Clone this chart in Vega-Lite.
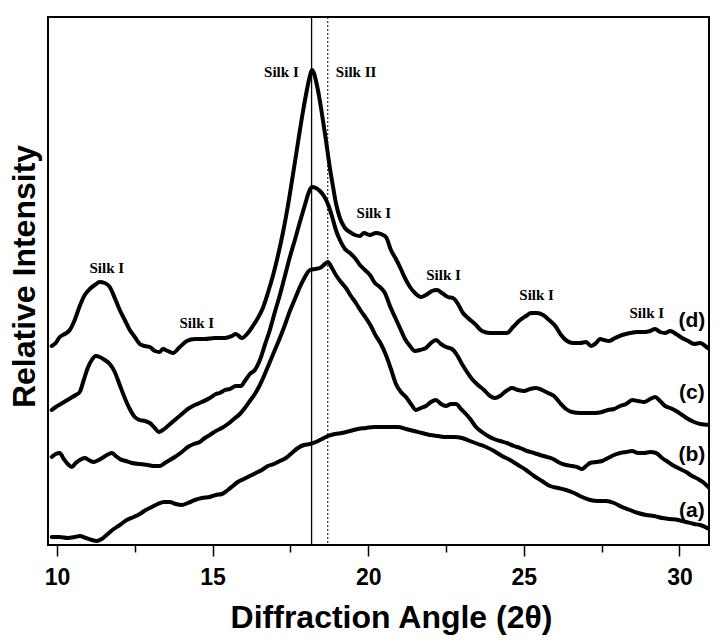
{
  "$schema": "https://vega.github.io/schema/vega-lite/v6.json",
  "width": 661,
  "height": 528,
  "autosize": {"type": "none"},
  "padding": {"left": 48, "top": 17, "right": 15, "bottom": 97},
  "background": "white",
  "config": {
    "view": {"stroke": "black", "strokeWidth": 2},
    "font": "Liberation Sans"
  },
  "datasets": {
    "curves": [
      {"s":"d","x":9.830,"y":199},{"s":"d","x":9.958,"y":202},{"s":"d","x":10.087,"y":208},{"s":"d","x":10.248,"y":211},{"s":"d","x":10.409,"y":215},{"s":"d","x":10.569,"y":225},{"s":"d","x":10.730,"y":239},{"s":"d","x":10.891,"y":250},{"s":"d","x":11.052,"y":256},{"s":"d","x":11.212,"y":260},{"s":"d","x":11.373,"y":263},{"s":"d","x":11.534,"y":262},{"s":"d","x":11.695,"y":258},{"s":"d","x":11.855,"y":247},{"s":"d","x":12.016,"y":235},{"s":"d","x":12.177,"y":225},{"s":"d","x":12.338,"y":215},{"s":"d","x":12.498,"y":208},{"s":"d","x":12.659,"y":201},{"s":"d","x":12.820,"y":199},{"s":"d","x":12.981,"y":198},{"s":"d","x":13.142,"y":194},{"s":"d","x":13.302,"y":193},{"s":"d","x":13.399,"y":196},{"s":"d","x":13.560,"y":194},{"s":"d","x":13.720,"y":192},{"s":"d","x":13.945,"y":198},{"s":"d","x":14.170,"y":204},{"s":"d","x":14.428,"y":206},{"s":"d","x":14.749,"y":206},{"s":"d","x":15.071,"y":207},{"s":"d","x":15.392,"y":207},{"s":"d","x":15.617,"y":209},{"s":"d","x":15.746,"y":211},{"s":"d","x":15.939,"y":207},{"s":"d","x":16.132,"y":212},{"s":"d","x":16.293,"y":219},{"s":"d","x":16.453,"y":227},{"s":"d","x":16.614,"y":237},{"s":"d","x":16.775,"y":252},{"s":"d","x":16.936,"y":269},{"s":"d","x":17.096,"y":289},{"s":"d","x":17.257,"y":312},{"s":"d","x":17.418,"y":339},{"s":"d","x":17.579,"y":370},{"s":"d","x":17.740,"y":402},{"s":"d","x":17.900,"y":433},{"s":"d","x":18.029,"y":455},{"s":"d","x":18.125,"y":469},{"s":"d","x":18.190,"y":475},{"s":"d","x":18.254,"y":472},{"s":"d","x":18.350,"y":460},{"s":"d","x":18.447,"y":444},{"s":"d","x":18.543,"y":425},{"s":"d","x":18.640,"y":405},{"s":"d","x":18.768,"y":377},{"s":"d","x":18.865,"y":359},{"s":"d","x":18.961,"y":342},{"s":"d","x":19.090,"y":327},{"s":"d","x":19.251,"y":317},{"s":"d","x":19.412,"y":313},{"s":"d","x":19.572,"y":310},{"s":"d","x":19.733,"y":309},{"s":"d","x":19.862,"y":312},{"s":"d","x":20.055,"y":310},{"s":"d","x":20.248,"y":312},{"s":"d","x":20.408,"y":311},{"s":"d","x":20.569,"y":308},{"s":"d","x":20.730,"y":295},{"s":"d","x":20.891,"y":286},{"s":"d","x":21.019,"y":278},{"s":"d","x":21.180,"y":267},{"s":"d","x":21.341,"y":258},{"s":"d","x":21.502,"y":252},{"s":"d","x":21.694,"y":248},{"s":"d","x":21.855,"y":250},{"s":"d","x":22.048,"y":254},{"s":"d","x":22.209,"y":255},{"s":"d","x":22.370,"y":252},{"s":"d","x":22.563,"y":248},{"s":"d","x":22.723,"y":247},{"s":"d","x":22.884,"y":241},{"s":"d","x":23.045,"y":232},{"s":"d","x":23.206,"y":227},{"s":"d","x":23.431,"y":221},{"s":"d","x":23.656,"y":214},{"s":"d","x":23.913,"y":212},{"s":"d","x":24.235,"y":212},{"s":"d","x":24.460,"y":212},{"s":"d","x":24.653,"y":218},{"s":"d","x":24.878,"y":225},{"s":"d","x":25.071,"y":229},{"s":"d","x":25.231,"y":232},{"s":"d","x":25.424,"y":232},{"s":"d","x":25.617,"y":230},{"s":"d","x":25.810,"y":225},{"s":"d","x":26.035,"y":218},{"s":"d","x":26.196,"y":210},{"s":"d","x":26.389,"y":204},{"s":"d","x":26.582,"y":202},{"s":"d","x":26.807,"y":202},{"s":"d","x":27.000,"y":203},{"s":"d","x":27.161,"y":199},{"s":"d","x":27.321,"y":202},{"s":"d","x":27.450,"y":206},{"s":"d","x":27.579,"y":205},{"s":"d","x":27.739,"y":204},{"s":"d","x":27.932,"y":207},{"s":"d","x":28.157,"y":210},{"s":"d","x":28.415,"y":212},{"s":"d","x":28.672,"y":213},{"s":"d","x":28.897,"y":213},{"s":"d","x":29.058,"y":214},{"s":"d","x":29.218,"y":216},{"s":"d","x":29.379,"y":213},{"s":"d","x":29.540,"y":212},{"s":"d","x":29.701,"y":214},{"s":"d","x":29.894,"y":211},{"s":"d","x":30.087,"y":207},{"s":"d","x":30.280,"y":204},{"s":"d","x":30.473,"y":201},{"s":"d","x":30.665,"y":202},{"s":"d","x":30.826,"y":199},{"s":"d","x":30.955,"y":196},
      {"s":"c","x":9.830,"y":135},{"s":"c","x":9.958,"y":138},{"s":"c","x":10.119,"y":141},{"s":"c","x":10.280,"y":144},{"s":"c","x":10.441,"y":147},{"s":"c","x":10.601,"y":150},{"s":"c","x":10.730,"y":153},{"s":"c","x":10.859,"y":165},{"s":"c","x":10.987,"y":177},{"s":"c","x":11.116,"y":185},{"s":"c","x":11.244,"y":189},{"s":"c","x":11.373,"y":188},{"s":"c","x":11.534,"y":185},{"s":"c","x":11.695,"y":181},{"s":"c","x":11.855,"y":173},{"s":"c","x":12.016,"y":160},{"s":"c","x":12.177,"y":147},{"s":"c","x":12.338,"y":136},{"s":"c","x":12.498,"y":128},{"s":"c","x":12.659,"y":125},{"s":"c","x":12.820,"y":124},{"s":"c","x":12.981,"y":122},{"s":"c","x":13.142,"y":117},{"s":"c","x":13.270,"y":113},{"s":"c","x":13.399,"y":115},{"s":"c","x":13.560,"y":119},{"s":"c","x":13.785,"y":125},{"s":"c","x":14.010,"y":131},{"s":"c","x":14.203,"y":136},{"s":"c","x":14.428,"y":140},{"s":"c","x":14.653,"y":143},{"s":"c","x":14.910,"y":147},{"s":"c","x":15.103,"y":151},{"s":"c","x":15.231,"y":152},{"s":"c","x":15.392,"y":155},{"s":"c","x":15.553,"y":156},{"s":"c","x":15.746,"y":159},{"s":"c","x":15.907,"y":159},{"s":"c","x":16.035,"y":164},{"s":"c","x":16.196,"y":171},{"s":"c","x":16.357,"y":175},{"s":"c","x":16.518,"y":185},{"s":"c","x":16.678,"y":200},{"s":"c","x":16.839,"y":215},{"s":"c","x":17.000,"y":233},{"s":"c","x":17.161,"y":250},{"s":"c","x":17.322,"y":269},{"s":"c","x":17.482,"y":288},{"s":"c","x":17.643,"y":305},{"s":"c","x":17.804,"y":323},{"s":"c","x":17.965,"y":340},{"s":"c","x":18.093,"y":353},{"s":"c","x":18.190,"y":358},{"s":"c","x":18.318,"y":357},{"s":"c","x":18.447,"y":354},{"s":"c","x":18.576,"y":349},{"s":"c","x":18.704,"y":341},{"s":"c","x":18.833,"y":329},{"s":"c","x":18.961,"y":315},{"s":"c","x":19.090,"y":305},{"s":"c","x":19.251,"y":296},{"s":"c","x":19.412,"y":292},{"s":"c","x":19.572,"y":287},{"s":"c","x":19.733,"y":280},{"s":"c","x":19.894,"y":275},{"s":"c","x":20.055,"y":270},{"s":"c","x":20.215,"y":262},{"s":"c","x":20.376,"y":258},{"s":"c","x":20.537,"y":252},{"s":"c","x":20.698,"y":239},{"s":"c","x":20.858,"y":228},{"s":"c","x":21.019,"y":217},{"s":"c","x":21.180,"y":206},{"s":"c","x":21.341,"y":199},{"s":"c","x":21.502,"y":194},{"s":"c","x":21.662,"y":195},{"s":"c","x":21.855,"y":197},{"s":"c","x":22.016,"y":202},{"s":"c","x":22.177,"y":205},{"s":"c","x":22.338,"y":201},{"s":"c","x":22.498,"y":198},{"s":"c","x":22.691,"y":196},{"s":"c","x":22.852,"y":190},{"s":"c","x":23.013,"y":181},{"s":"c","x":23.174,"y":173},{"s":"c","x":23.334,"y":166},{"s":"c","x":23.527,"y":160},{"s":"c","x":23.720,"y":155},{"s":"c","x":23.913,"y":149},{"s":"c","x":24.074,"y":147},{"s":"c","x":24.235,"y":149},{"s":"c","x":24.428,"y":154},{"s":"c","x":24.620,"y":157},{"s":"c","x":24.813,"y":155},{"s":"c","x":25.006,"y":154},{"s":"c","x":25.199,"y":156},{"s":"c","x":25.392,"y":157},{"s":"c","x":25.585,"y":155},{"s":"c","x":25.778,"y":152},{"s":"c","x":25.971,"y":149},{"s":"c","x":26.164,"y":142},{"s":"c","x":26.357,"y":136},{"s":"c","x":26.550,"y":133},{"s":"c","x":26.807,"y":132},{"s":"c","x":27.064,"y":132},{"s":"c","x":27.289,"y":132},{"s":"c","x":27.514,"y":133},{"s":"c","x":27.707,"y":135},{"s":"c","x":27.900,"y":136},{"s":"c","x":28.093,"y":139},{"s":"c","x":28.286,"y":141},{"s":"c","x":28.479,"y":145},{"s":"c","x":28.672,"y":144},{"s":"c","x":28.865,"y":143},{"s":"c","x":29.058,"y":146},{"s":"c","x":29.218,"y":148},{"s":"c","x":29.379,"y":144},{"s":"c","x":29.540,"y":139},{"s":"c","x":29.701,"y":137},{"s":"c","x":29.894,"y":134},{"s":"c","x":30.087,"y":130},{"s":"c","x":30.280,"y":126},{"s":"c","x":30.473,"y":123},{"s":"c","x":30.665,"y":121},{"s":"c","x":30.955,"y":120},
      {"s":"b","x":9.830,"y":88},{"s":"b","x":9.958,"y":91},{"s":"b","x":10.087,"y":92},{"s":"b","x":10.216,"y":86},{"s":"b","x":10.344,"y":81},{"s":"b","x":10.473,"y":78},{"s":"b","x":10.601,"y":82},{"s":"b","x":10.730,"y":85},{"s":"b","x":10.891,"y":87},{"s":"b","x":11.019,"y":85},{"s":"b","x":11.180,"y":83},{"s":"b","x":11.341,"y":85},{"s":"b","x":11.502,"y":88},{"s":"b","x":11.662,"y":91},{"s":"b","x":11.759,"y":92},{"s":"b","x":11.888,"y":89},{"s":"b","x":12.016,"y":86},{"s":"b","x":12.209,"y":84},{"s":"b","x":12.402,"y":82},{"s":"b","x":12.659,"y":81},{"s":"b","x":12.916,"y":80},{"s":"b","x":13.142,"y":79},{"s":"b","x":13.302,"y":79},{"s":"b","x":13.463,"y":82},{"s":"b","x":13.624,"y":85},{"s":"b","x":13.785,"y":88},{"s":"b","x":14.010,"y":93},{"s":"b","x":14.203,"y":98},{"s":"b","x":14.396,"y":101},{"s":"b","x":14.588,"y":103},{"s":"b","x":14.749,"y":107},{"s":"b","x":14.910,"y":110},{"s":"b","x":15.103,"y":114},{"s":"b","x":15.296,"y":117},{"s":"b","x":15.489,"y":121},{"s":"b","x":15.682,"y":126},{"s":"b","x":15.875,"y":131},{"s":"b","x":16.035,"y":137},{"s":"b","x":16.196,"y":144},{"s":"b","x":16.357,"y":151},{"s":"b","x":16.518,"y":160},{"s":"b","x":16.678,"y":171},{"s":"b","x":16.839,"y":183},{"s":"b","x":17.000,"y":195},{"s":"b","x":17.161,"y":207},{"s":"b","x":17.322,"y":220},{"s":"b","x":17.482,"y":234},{"s":"b","x":17.643,"y":246},{"s":"b","x":17.804,"y":258},{"s":"b","x":17.965,"y":268},{"s":"b","x":18.125,"y":275},{"s":"b","x":18.286,"y":276},{"s":"b","x":18.447,"y":277},{"s":"b","x":18.608,"y":281},{"s":"b","x":18.704,"y":283},{"s":"b","x":18.833,"y":277},{"s":"b","x":18.961,"y":270},{"s":"b","x":19.122,"y":263},{"s":"b","x":19.283,"y":257},{"s":"b","x":19.444,"y":249},{"s":"b","x":19.604,"y":242},{"s":"b","x":19.765,"y":234},{"s":"b","x":19.926,"y":227},{"s":"b","x":20.087,"y":219},{"s":"b","x":20.248,"y":209},{"s":"b","x":20.408,"y":201},{"s":"b","x":20.569,"y":190},{"s":"b","x":20.730,"y":176},{"s":"b","x":20.891,"y":161},{"s":"b","x":21.051,"y":153},{"s":"b","x":21.212,"y":148},{"s":"b","x":21.373,"y":141},{"s":"b","x":21.534,"y":135},{"s":"b","x":21.694,"y":137},{"s":"b","x":21.855,"y":139},{"s":"b","x":22.016,"y":143},{"s":"b","x":22.177,"y":145},{"s":"b","x":22.338,"y":141},{"s":"b","x":22.498,"y":139},{"s":"b","x":22.659,"y":141},{"s":"b","x":22.820,"y":141},{"s":"b","x":22.981,"y":136},{"s":"b","x":23.141,"y":131},{"s":"b","x":23.302,"y":125},{"s":"b","x":23.463,"y":118},{"s":"b","x":23.656,"y":113},{"s":"b","x":23.849,"y":109},{"s":"b","x":24.042,"y":106},{"s":"b","x":24.235,"y":104},{"s":"b","x":24.460,"y":102},{"s":"b","x":24.685,"y":99},{"s":"b","x":24.878,"y":97},{"s":"b","x":25.103,"y":94},{"s":"b","x":25.328,"y":92},{"s":"b","x":25.521,"y":90},{"s":"b","x":25.746,"y":88},{"s":"b","x":25.939,"y":86},{"s":"b","x":26.164,"y":82},{"s":"b","x":26.357,"y":80},{"s":"b","x":26.550,"y":79},{"s":"b","x":26.710,"y":78},{"s":"b","x":26.871,"y":76},{"s":"b","x":27.000,"y":79},{"s":"b","x":27.128,"y":82},{"s":"b","x":27.321,"y":83},{"s":"b","x":27.514,"y":84},{"s":"b","x":27.707,"y":87},{"s":"b","x":27.900,"y":90},{"s":"b","x":28.093,"y":92},{"s":"b","x":28.286,"y":93},{"s":"b","x":28.479,"y":94},{"s":"b","x":28.672,"y":92},{"s":"b","x":28.865,"y":92},{"s":"b","x":29.058,"y":93},{"s":"b","x":29.251,"y":92},{"s":"b","x":29.444,"y":87},{"s":"b","x":29.636,"y":83},{"s":"b","x":29.830,"y":79},{"s":"b","x":30.022,"y":76},{"s":"b","x":30.215,"y":73},{"s":"b","x":30.408,"y":69},{"s":"b","x":30.601,"y":66},{"s":"b","x":30.794,"y":62},{"s":"b","x":30.955,"y":57},
      {"s":"a","x":9.830,"y":8},{"s":"a","x":10.087,"y":8},{"s":"a","x":10.344,"y":7},{"s":"a","x":10.569,"y":8},{"s":"a","x":10.730,"y":9},{"s":"a","x":10.923,"y":7},{"s":"a","x":11.116,"y":5},{"s":"a","x":11.277,"y":4},{"s":"a","x":11.437,"y":6},{"s":"a","x":11.630,"y":11},{"s":"a","x":11.823,"y":16},{"s":"a","x":12.016,"y":20},{"s":"a","x":12.241,"y":25},{"s":"a","x":12.466,"y":28},{"s":"a","x":12.659,"y":31},{"s":"a","x":12.852,"y":35},{"s":"a","x":13.045,"y":38},{"s":"a","x":13.238,"y":41},{"s":"a","x":13.431,"y":43},{"s":"a","x":13.624,"y":43},{"s":"a","x":13.817,"y":41},{"s":"a","x":14.010,"y":40},{"s":"a","x":14.203,"y":42},{"s":"a","x":14.428,"y":45},{"s":"a","x":14.653,"y":47},{"s":"a","x":14.910,"y":48},{"s":"a","x":15.103,"y":50},{"s":"a","x":15.296,"y":51},{"s":"a","x":15.489,"y":55},{"s":"a","x":15.649,"y":59},{"s":"a","x":15.810,"y":63},{"s":"a","x":16.003,"y":66},{"s":"a","x":16.196,"y":69},{"s":"a","x":16.389,"y":72},{"s":"a","x":16.582,"y":75},{"s":"a","x":16.775,"y":79},{"s":"a","x":16.968,"y":81},{"s":"a","x":17.161,"y":84},{"s":"a","x":17.354,"y":87},{"s":"a","x":17.547,"y":92},{"s":"a","x":17.740,"y":97},{"s":"a","x":17.932,"y":100},{"s":"a","x":18.125,"y":101},{"s":"a","x":18.318,"y":103},{"s":"a","x":18.511,"y":106},{"s":"a","x":18.704,"y":109},{"s":"a","x":18.929,"y":111},{"s":"a","x":19.154,"y":112},{"s":"a","x":19.412,"y":114},{"s":"a","x":19.669,"y":116},{"s":"a","x":19.926,"y":117},{"s":"a","x":20.183,"y":118},{"s":"a","x":20.440,"y":118},{"s":"a","x":20.698,"y":118},{"s":"a","x":20.955,"y":118},{"s":"a","x":21.212,"y":116},{"s":"a","x":21.469,"y":114},{"s":"a","x":21.727,"y":112},{"s":"a","x":21.984,"y":110},{"s":"a","x":22.241,"y":109},{"s":"a","x":22.498,"y":108},{"s":"a","x":22.756,"y":108},{"s":"a","x":23.013,"y":107},{"s":"a","x":23.270,"y":104},{"s":"a","x":23.527,"y":101},{"s":"a","x":23.784,"y":98},{"s":"a","x":24.042,"y":94},{"s":"a","x":24.299,"y":89},{"s":"a","x":24.556,"y":85},{"s":"a","x":24.813,"y":80},{"s":"a","x":25.071,"y":75},{"s":"a","x":25.328,"y":69},{"s":"a","x":25.585,"y":64},{"s":"a","x":25.842,"y":59},{"s":"a","x":26.100,"y":57},{"s":"a","x":26.357,"y":55},{"s":"a","x":26.614,"y":52},{"s":"a","x":26.871,"y":48},{"s":"a","x":27.128,"y":45},{"s":"a","x":27.386,"y":44},{"s":"a","x":27.643,"y":44},{"s":"a","x":27.900,"y":42},{"s":"a","x":28.157,"y":38},{"s":"a","x":28.415,"y":35},{"s":"a","x":28.672,"y":32},{"s":"a","x":28.929,"y":30},{"s":"a","x":29.186,"y":29},{"s":"a","x":29.444,"y":27},{"s":"a","x":29.701,"y":26},{"s":"a","x":29.958,"y":25},{"s":"a","x":30.215,"y":23},{"s":"a","x":30.473,"y":21},{"s":"a","x":30.665,"y":20},{"s":"a","x":30.955,"y":16}
    ],
    "peaks": [
      {"x": 11.60, "y": 277, "label": "Silk I"},
      {"x": 14.49, "y": 222, "label": "Silk I"},
      {"x": 17.21, "y": 473, "label": "Silk I"},
      {"x": 19.61, "y": 473, "label": "Silk II"},
      {"x": 20.18, "y": 332, "label": "Silk I"},
      {"x": 22.42, "y": 270, "label": "Silk I"},
      {"x": 25.41, "y": 250, "label": "Silk I"},
      {"x": 28.95, "y": 232, "label": "Silk I"}
    ],
    "samples": [
      {"x": 30.40, "y": 224, "label": "(d)"},
      {"x": 30.40, "y": 152, "label": "(c)"},
      {"x": 30.40, "y": 90, "label": "(b)"},
      {"x": 30.40, "y": 34, "label": "(a)"}
    ]
  },
  "layer": [
    {
      "data": {"values": [{"angle": 18.18}]},
      "mark": {"type": "rule", "color": "black", "strokeWidth": 1.3},
      "encoding": {"x": {"field": "angle", "type": "quantitative"}}
    },
    {
      "data": {"values": [{"angle": 18.7}]},
      "mark": {"type": "rule", "color": "black", "strokeWidth": 1, "strokeDash": [2, 2]},
      "encoding": {"x": {"field": "angle", "type": "quantitative"}}
    },
    {
      "data": {"name": "curves"},
      "mark": {"type": "line", "stroke": "black", "strokeWidth": 4, "interpolate": "monotone", "strokeJoin": "round", "strokeCap": "round", "clip": true},
      "encoding": {
        "x": {
          "field": "x", "type": "quantitative",
          "scale": {"domain": [9.71, 30.95], "nice": false, "zero": false},
          "axis": {
            "values": [10, 12.5, 15, 17.5, 20, 22.5, 25, 27.5, 30],
            "labelExpr": "datum.value % 5 == 0 ? datum.label : ''",
            "tickSize": {"condition": {"test": "datum.value % 5 == 0", "value": 11}, "value": 7},
            "tickWidth": 1.5,
            "tickColor": "black",
            "domain": false,
            "grid": false,
            "labelFont": "Liberation Sans",
            "labelFontWeight": "bold",
            "labelFontSize": 23,
            "labelColor": "black",
            "labelPadding": 10,
            "labelFlush": false,
            "labelOverlap": false,
            "title": "Diffraction Angle (2θ)",
            "titleFont": "Liberation Sans",
            "titleFontWeight": "bold",
            "titleFontSize": 32,
            "titleColor": "black",
            "titleX": 343,
            "titleY": 82,
            "titleBaseline": "alphabetic",
            "titleAlign": "center"
          }
        },
        "y": {
          "field": "y", "type": "quantitative",
          "scale": {"domain": [0, 528], "nice": false, "zero": false},
          "axis": {
            "labels": false,
            "ticks": false,
            "domain": false,
            "grid": false,
            "title": "Relative Intensity",
            "titleFont": "Liberation Sans",
            "titleFontWeight": "bold",
            "titleFontSize": 32,
            "titleColor": "black",
            "titleAngle": -90,
            "titleX": -14,
            "titleY": 259,
            "titleBaseline": "alphabetic",
            "titleAlign": "center"
          }
        },
        "detail": {"field": "s", "type": "nominal"}
      }
    },
    {
      "data": {"name": "peaks"},
      "mark": {"type": "text", "font": "Liberation Serif", "fontWeight": "bold", "fontSize": 15, "color": "black", "align": "center", "baseline": "middle"},
      "encoding": {
        "x": {"field": "x", "type": "quantitative"},
        "y": {"field": "y", "type": "quantitative"},
        "text": {"field": "label"}
      }
    },
    {
      "data": {"name": "samples"},
      "mark": {"type": "text", "font": "Liberation Sans", "fontWeight": "bold", "fontSize": 21, "color": "black", "align": "center", "baseline": "middle"},
      "encoding": {
        "x": {"field": "x", "type": "quantitative"},
        "y": {"field": "y", "type": "quantitative"},
        "text": {"field": "label"}
      }
    }
  ]
}
